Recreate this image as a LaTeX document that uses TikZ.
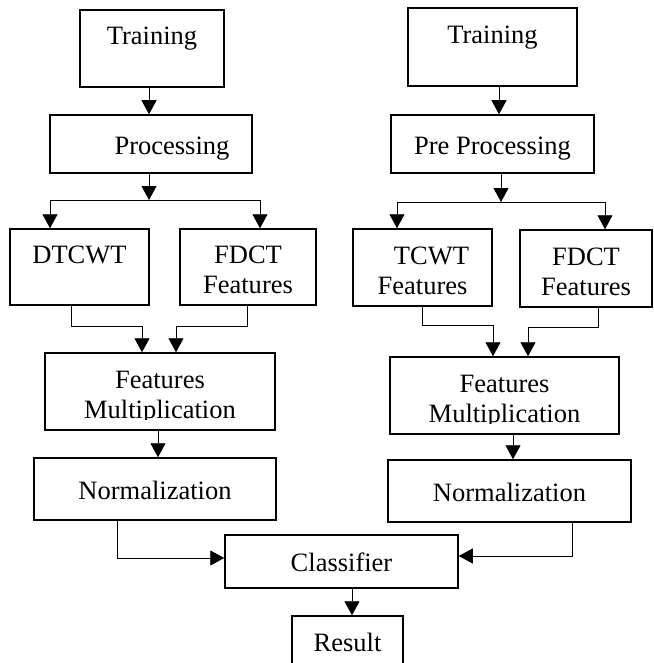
\documentclass[tikz,border=0pt]{standalone}
\usepackage{fontspec}
\setmainfont{Liberation Serif}
\usetikzlibrary{arrows.meta}

\begin{document}
\begin{tikzpicture}[x=1pt,y=-1pt,
    blk/.style={draw,line width=1.5pt,inner sep=0pt,align=center,
      font=\fontsize{26.5}{30}\selectfont,
      text height=#1,text depth=0pt},
    blk/.default=20pt,
    arr/.style={line width=0.9pt,-{Triangle[length=14pt,width=15pt]}},
    lin/.style={line width=0.9pt}]
  \clip (0,0) rectangle (653,663);

  % left branch
  \node[blk=53pt,minimum width=144pt,minimum height=77pt] (trainL) at (152,48.5) {Training\\\mbox{}};
  \node[blk,minimum width=202pt,minimum height=58pt] (procL) at (151,144) {\hspace*{42pt}Processing};
  \node[blk=53pt,minimum width=139pt,minimum height=76pt] (dtcwt) at (79.5,267) {DTCWT\\\mbox{}};
  \node[blk=53pt,minimum width=136pt,minimum height=76pt] (fdctL) at (248,267) {FDCT\\Features};
  \node[blk=53pt,minimum width=230pt,minimum height=77pt] (fmL) at (160,391.5) {Features\\Multiplication};
  \node[blk,minimum width=242pt,minimum height=62pt] (normL) at (155,489) {Normalization};

  % right branch
  \node[blk=53pt,minimum width=169pt,minimum height=78pt] (trainR) at (492.5,47) {Training\\\mbox{}};
  \node[blk,minimum width=203pt,minimum height=58pt] (procR) at (492.5,144) {Pre Processing};
  \node[blk=53pt,minimum width=139pt,minimum height=77pt] (tcwt) at (422.5,267.5) {\hspace*{18pt}TCWT\\Features};
  \node[blk=53pt,minimum width=132pt,minimum height=77pt] (fdctR) at (586,268.5) {FDCT\\Features};
  \node[blk=53pt,minimum width=229pt,minimum height=77pt] (fmR) at (504.5,395.5) {Features\\Multiplication};
  \node[blk,minimum width=243pt,minimum height=62pt] (normR) at (509.5,491) {Normalization};

  % bottom
  \node[blk,minimum width=233pt,minimum height=53pt] (cls) at (341.5,561.5) {Classifier};
  \node[blk,minimum width=111pt,minimum height=50pt] (res) at (347.5,641) {Result};

  % text cut off at the box bottom
  \fill[white] ([xshift=1.8pt,yshift=1.8pt]fmL.south west) rectangle ([xshift=-1.8pt,yshift=11pt]fmL.south east);
  \fill[white] ([xshift=1.8pt,yshift=1.8pt]fmR.south west) rectangle ([xshift=-1.8pt,yshift=11pt]fmR.south east);

  % left connectors
  \draw[arr] ([xshift=-3pt]trainL.south) -- ([xshift=-3pt]trainL.south |- procL.north);
  \coordinate (splitL) at (149,200);
  \coordinate (spLa) at (50,200);
  \coordinate (spLb) at (260,200);
  \draw[arr] ([xshift=-2pt]procL.south) -- (splitL);
  \draw[lin] (spLa) -- (spLb);
  \draw[arr] (spLa) -- (spLa |- dtcwt.north);
  \draw[arr] (spLb) -- (spLb |- fdctL.north);
  \draw[arr] ([xshift=-8.5pt]dtcwt.south) -- ++(0,21) -| ([xshift=-18pt]fmL.north);
  \draw[arr] ([xshift=-1pt]fdctL.south) -- ++(0,21) -| ([xshift=16pt]fmL.north);
  \draw[arr] ([xshift=-2pt]fmL.south) -- ([xshift=-2pt]fmL.south |- normL.north);
  \draw[arr] ([xshift=-38pt]normL.south) |- ([yshift=3.5pt]cls.west);

  % right connectors
  \draw[arr] ([xshift=6.5pt]trainR.south) -- ([xshift=6.5pt]trainR.south |- procR.north);
  \coordinate (splitR) at (501,202);
  \coordinate (spRa) at (397,202);
  \coordinate (spRb) at (605,202);
  \draw[arr] ([xshift=8.5pt]procR.south) -- (splitR);
  \draw[lin] (spRa) -- (spRb);
  \draw[arr] (spRa) -- (spRa |- tcwt.north);
  \draw[arr] (spRb) -- (spRb |- fdctR.north);
  \draw[arr] ([xshift=-0.5pt]tcwt.south) -- ++(0,19) -| ([xshift=-11.5pt]fmR.north);
  \draw[arr] ([xshift=12pt]fdctR.south) -- ++(0,19.5) -| ([xshift=23.5pt]fmR.north);
  \draw[arr] ([xshift=8.5pt]fmR.south) -- ([xshift=8.5pt]fmR.south |- normR.north);
  \draw[arr] ([xshift=62.5pt]normR.south) |- ([yshift=5.5pt]cls.east);

  % result
  \draw[arr] ([xshift=10.5pt]cls.south) -- ([xshift=10.5pt]cls.south |- res.north);
\end{tikzpicture}
\end{document}
